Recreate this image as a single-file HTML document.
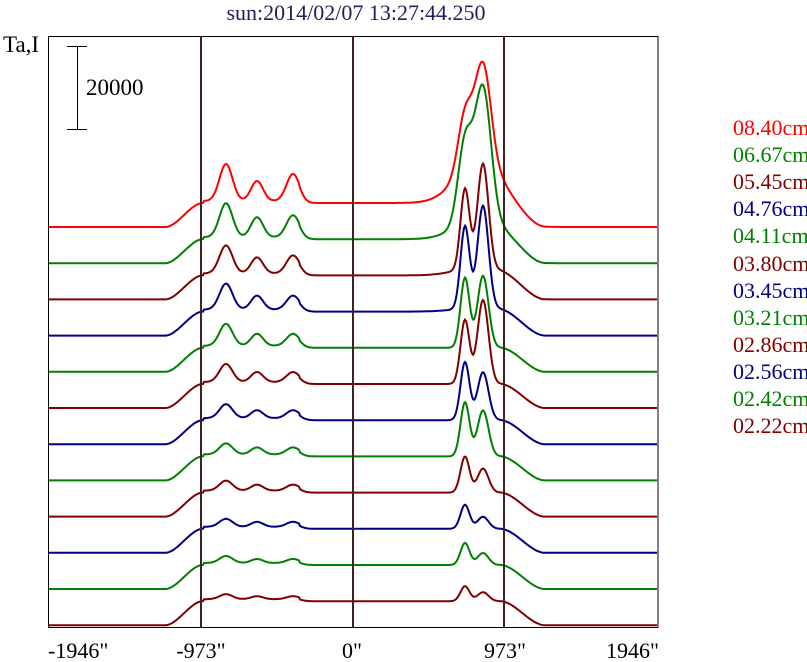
<!DOCTYPE html>
<html><head><meta charset="utf-8"><style>
html,body{margin:0;padding:0;background:#fff;width:807px;height:662px;overflow:hidden}
svg text{font-family:"Liberation Serif",serif}
</style></head><body>
<svg id="s" width="807" height="662" xmlns="http://www.w3.org/2000/svg">
<rect x="0" y="0" width="807" height="662" fill="#fff"/>
<text x="356" y="20" font-size="22" fill="#202060" text-anchor="middle">sun:2014/02/07 13:27:44.250</text>
<text x="3" y="52" font-size="23" fill="#000">Ta,I</text>
<rect x="48.5" y="36.5" width="609.5" height="591" fill="none" stroke="#000" stroke-width="1"/>
<line x1="77.5" y1="46" x2="77.5" y2="130" stroke="#000"/>
<line x1="67" y1="46.5" x2="87" y2="46.5" stroke="#000"/>
<line x1="67" y1="129.5" x2="87" y2="129.5" stroke="#000"/>
<text x="86" y="95" font-size="23" fill="#000">20000</text>
<g id="curves"></g>
<line x1="201" y1="36" x2="201" y2="628" stroke="#402020" stroke-width="2"/>
<line x1="353" y1="36" x2="353" y2="628" stroke="#402020" stroke-width="2"/>
<line x1="504" y1="36" x2="504" y2="628" stroke="#402020" stroke-width="2"/>
<g font-size="22" fill="#000">
<text x="48" y="658">-1946"</text>
<text x="201" y="658" text-anchor="middle">-973"</text>
<text x="352" y="658" text-anchor="middle">0"</text>
<text x="505" y="658" text-anchor="middle">973"</text>
<text x="659" y="658" text-anchor="end">1946"</text>
</g>
<g id="leg" font-size="22"></g>
</svg>
<script>
var cols=["#ff0000","#008000","#800000","#000080","#008000","#800000","#000080","#008000","#800000","#000080","#008000","#800000"];
var labs=["08.40cm","06.67cm","05.45cm","04.76cm","04.11cm","03.80cm","03.45cm","03.21cm","02.86cm","02.56cm","02.42cm","02.22cm"];
var L1=[37,34,28,26,22,18,14,11,10,8,7,5];
var L2=[20,20,16,14,12,10,8,7,6,5,4,3];
var L3=[27,22,18,14,12,10,8,7,6,5,4,3];
var R1=[55,80,80,82,70,64,58,54,36,24,22,15];
var R2=[100,132,104,102,72,84,48,46,24,12,12,9];
var W=[40,20,8,4,0,0,0,0,0,0,0,0];
function g(x,c,s){return Math.exp(-(x-c)*(x-c)/(2*s*s));}
function sm(x,a,b){var t=(x-a)/(b-a);t=Math.max(0,Math.min(1,t));return t*t*(3-2*t);}
var out="",leg="";
for(var i=0;i<12;i++){
 var base=227+36.2*i, pts=[];
 var sw=i<2?8:5.5;
 for(var x=49;x<=657;x++){
  var d=24*sm(x,165,203)*(1-sm(x,500,545));
  if(x>203&&x<300) d+=2;
  var v=d+L1[i]*g(x,226,6.5)+L2[i]*g(x,257,6)+L3[i]*g(x,293,6.5)
   +R1[i]*g(x,465,i<2?7:4.5)+R2[i]*g(x,483,sw)+W[i]*g(x,478,22);
  pts.push(x+","+(base-v).toFixed(1));
 }
 out+='<polyline fill="none" stroke="'+cols[i]+'" stroke-width="2" points="'+pts.join(" ")+'"/>';
 leg+='<text x="733" y="'+(135+27.1*i).toFixed(0)+'" fill="'+cols[i]+'">'+labs[i]+'</text>';
}
document.getElementById("curves").innerHTML=out;
document.getElementById("leg").innerHTML=leg;
</script>
</body></html>
